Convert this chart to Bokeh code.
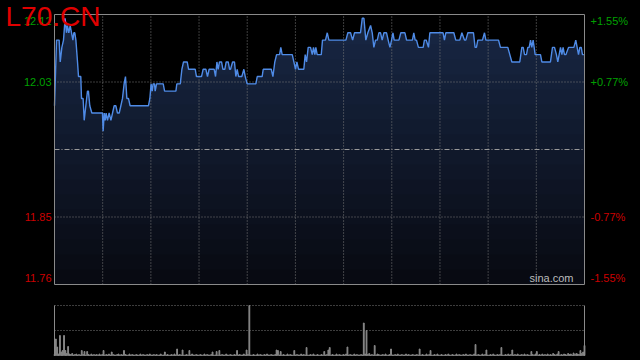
from bokeh.plotting import figure
from bokeh.layouts import column
from bokeh.models import Range1d, Label, GlobalInlineStyleSheet
from bokeh.embed import file_html
from bokeh.resources import INLINE

# ---------------- data ----------------
TITLE = "L70.CN"
WATERMARK = "sina.com"
PREV_CLOSE = 11.94
LIMIT_PCT = 1.55
SESSION_END = 389  # last minute index of the session
LABEL_STEPS = [1.0, 0.5, -0.5, -1.0]          # fraction of the +/- limit
PRICE_LABELS = ["12.12", "12.03", "11.85", "11.76"]
PCT_LABELS = ["+1.55%", "+0.77%", "-0.77%", "-1.55%"]

# intraday price line (minute of session, price)
TIMES = [
    0, 1.5, 3.4, 4.2, 5.4, 6.6, 7.8, 8.8, 9.5, 10.5, 11.5, 12.5, 13.5, 14.2, 14.9, 15.7,
    16.9, 17.6, 19.3, 19.8, 21.0, 21.8, 23.0, 24.2, 24.9, 25.9, 27.4, 35.2, 35.7, 36.5,
    37.2, 37.9, 38.9, 40.1, 41.4, 42.6, 43.8, 45.0, 46.2, 47.5, 48.7, 49.9, 51.1, 52.1,
    53.1, 54.3, 55.5, 69.0, 70.0, 70.9, 71.7, 72.4, 73.4, 73.9, 74.9, 75.9, 79.8, 80.8,
    89.1, 89.8, 92.3, 93.5, 94.7, 97.4, 98.4, 103.3, 104.2, 107.9, 109.1, 111.1, 112.3,
    113.5, 117.2, 118.2, 119.2, 120.1, 121.1, 122.6, 123.6, 125.0, 126.0, 127.5, 128.5,
    129.2, 130.7, 132.1, 133.1, 134.1, 135.1, 137.5, 139.0, 140.0, 141.4, 147.8, 148.8,
    152.4, 153.2, 159.1, 160.3, 161.7, 163.0, 165.2, 166.1, 167.1, 174.5, 175.7, 176.9,
    177.9, 179.1, 183.0, 184.0, 185.0, 186.2, 187.9, 189.2, 190.1, 191.1, 191.8, 192.8,
    195.8, 196.7, 198.9, 200.2, 201.4, 213.9, 215.3, 217.3, 218.8, 220.2, 224.6, 225.9,
    227.1, 228.5, 230.0, 232.0, 233.2, 234.4, 235.6, 236.9, 238.1, 239.3, 240.5, 241.8,
    243.7, 244.9, 246.2, 247.4, 248.4, 249.3, 252.8, 254.2, 257.2, 258.4,
    262.7, 263.7, 264.7, 265.7, 267.1, 270.6, 271.5, 272.8, 274.5, 275.5, 284.3, 285.2,
    286.2, 287.2, 293.1, 294.5, 297.5, 299.0, 300.9, 301.9, 303.4, 307.5, 308.7, 309.7,
    310.7, 314.1, 315.6, 316.6, 325.9, 327.3, 332.7, 335.7, 341.5, 343.0, 344.0, 345.0,
    346.4, 347.4, 348.4, 349.4, 350.3, 351.3, 352.8, 356.7, 357.7, 364.0, 365.5, 367.0,
    368.4, 369.4, 370.4, 371.4, 372.4, 373.3, 374.3, 375.3, 377.3, 381.2, 382.6, 383.6,
    384.6, 385.6, 386.6, 387.5, 388.5,
]
PRICES = [
    12.00, 12.09, 12.09, 12.06, 12.08, 12.09, 12.12, 12.10, 12.11, 12.10, 12.11, 12.10, 12.09, 12.10, 12.10, 12.09,
    12.06, 12.04, 12.04, 12.01, 12.01, 11.98, 12.00, 12.02, 12.02, 12.00, 11.99, 11.99, 11.965, 11.99,
    11.98, 11.99, 11.98, 11.99, 11.98, 11.99, 12.00, 12.00, 11.99, 11.99, 12.00, 12.01, 12.03, 12.04,
    12.01, 12.01, 12.00, 12.00, 12.01, 12.03, 12.02, 12.03, 12.03, 12.02, 12.03, 12.03, 12.03, 12.02,
    12.02, 12.03, 12.03, 12.05, 12.06, 12.06, 12.05, 12.05, 12.04, 12.04, 12.05, 12.05, 12.04,
    12.05, 12.05, 12.04, 12.06, 12.05, 12.06, 12.06, 12.05, 12.05, 12.06, 12.06, 12.05,
    12.05, 12.06, 12.06, 12.04, 12.05, 12.04, 12.04, 12.05, 12.04, 12.03, 12.03, 12.04,
    12.04, 12.05, 12.05, 12.04, 12.06, 12.07, 12.07, 12.08, 12.07, 12.07, 12.06, 12.05,
    12.06, 12.05, 12.05, 12.07, 12.06, 12.08, 12.08, 12.07, 12.08, 12.07, 12.08, 12.07,
    12.07, 12.09, 12.09, 12.10, 12.09, 12.09, 12.10, 12.10, 12.09, 12.10, 12.10, 12.12,
    12.12, 12.09, 12.10, 12.11, 12.10, 12.08, 12.09, 12.09, 12.10, 12.10, 12.09, 12.10,
    12.10, 12.09, 12.08, 12.09, 12.10, 12.09, 12.09, 12.10, 12.10, 12.09,
    12.09, 12.10, 12.09, 12.09, 12.08, 12.08, 12.09, 12.09, 12.08, 12.10, 12.10, 12.10,
    12.09, 12.10, 12.10, 12.09, 12.09, 12.10, 12.09, 12.09, 12.10, 12.10, 12.08, 12.08,
    12.09, 12.09, 12.10, 12.09, 12.09, 12.08, 12.08, 12.06, 12.06, 12.08, 12.08, 12.07,
    12.07, 12.08, 12.08, 12.09, 12.08, 12.09, 12.07, 12.07, 12.06, 12.06, 12.08, 12.08,
    12.07, 12.06, 12.07, 12.08, 12.07, 12.08, 12.07, 12.07, 12.08, 12.08, 12.09, 12.08,
    12.07, 12.08, 12.08, 12.07, 12.07,
]

# per-minute volume (relative units, 100 = top of the volume panel)
VOLUME = [
    2, 33, 17, 3, 40, 7, 10, 40, 10, 4, 18, 3, 2, 4, 1, 2, 3, 1, 2, 1, 10, 2, 8, 1, 8, 2, 1, 3, 1, 2,
    1, 2, 1, 3, 1, 2, 10, 1, 2, 1, 3, 1, 7, 2, 1, 1, 2, 3, 1, 2, 1, 10, 2, 1, 1, 3, 1, 2, 1, 1,
    2, 1, 1, 3, 1, 2, 1, 1, 2, 1, 3, 1, 1, 2, 1, 2, 1, 1, 3, 1, 1, 7, 1, 2, 1, 1, 2, 1, 3, 1,
    13, 1, 2, 1, 11, 1, 1, 2, 1, 10, 1, 3, 1, 1, 2, 1, 1, 2, 1, 1, 3, 1, 2, 1, 1, 2, 7, 1, 1, 8,
    1, 10, 1, 2, 1, 1, 3, 1, 1, 2, 1, 1, 2, 1, 10, 1, 2, 1, 1, 3, 1, 11, 2, 120, 1, 1, 2, 1, 1, 3,
    1, 2, 1, 1, 2, 1, 3, 1, 1, 2, 1, 1, 2, 11, 10, 1, 8, 1, 2, 1, 1, 3, 1, 2, 1, 1, 10, 1, 2, 1,
    1, 3, 1, 2, 1, 16, 1, 1, 2, 1, 3, 1, 1, 2, 1, 1, 2, 1, 8, 1, 2, 11, 16, 1, 2, 1, 1, 3, 1, 2,
    1, 1, 2, 1, 3, 17, 1, 2, 1, 1, 3, 1, 2, 1, 1, 2, 1, 65, 3, 50, 2, 4, 1, 2, 1, 20, 1, 3, 2, 1,
    1, 2, 1, 3, 1, 1, 2, 13, 1, 1, 2, 1, 3, 1, 1, 2, 1, 1, 3, 1, 2, 1, 1, 2, 1, 1, 2, 1, 13, 1,
    2, 1, 1, 3, 1, 2, 10, 1, 1, 2, 1, 3, 1, 1, 2, 1, 1, 2, 1, 3, 1, 1, 2, 1, 1, 3, 1, 2, 1, 1,
    2, 1, 3, 1, 1, 2, 1, 1, 3, 22, 1, 2, 1, 1, 3, 1, 2, 11, 1, 1, 2, 1, 3, 1, 1, 2, 1, 2, 16, 1,
    1, 2, 1, 3, 1, 2, 11, 1, 2, 1, 3, 1, 1, 2, 1, 3, 1, 2, 1, 1, 8, 2, 1, 3, 8, 1, 2, 1, 3, 1,
    2, 1, 3, 1, 2, 1, 4, 2, 1, 3, 8, 1, 2, 1, 3, 2, 1, 4, 2, 3, 1, 5, 2, 4, 3, 2, 10, 4, 7, 20,
]
VOL_MAX = 100

# ---------------- layout / styling ----------------
W = 640
BOX_L, BOX_R = 54, 584          # plot box, px
BOX_T, BOX_B = 14, 284
H1 = 290
VBOX_T, VBOX_B = 15, 65         # volume box inside its own 70px canvas
H2 = 70

FONT = "Liberation Sans"
GREEN = "#00a000"
RED = "#cc0000"
GRID = "#7a7a7a"
BORDER = "#8a8a8a"
LINE = "#4f8be6"
TOP_RGB = (25, 40, 70)
BOT_RGB = (8, 10, 17)

y_top = PREV_CLOSE * (1 + LIMIT_PCT / 100)
y_bot = PREV_CLOSE * (1 - LIMIT_PCT / 100)

# the frame fills the canvas; ranges are widened so the box sits where it should
xs = SESSION_END / (BOX_R - BOX_L)
x_lo = -BOX_L * xs
x_hi = SESSION_END + (W - BOX_R) * xs
ys = (y_top - y_bot) / (BOX_B - BOX_T)
y_hi = y_top + BOX_T * ys
y_lo = y_bot - (H1 - BOX_B) * ys

p = figure(width=W, height=H1, output_backend="svg", toolbar_location=None,
           x_range=Range1d(x_lo, x_hi), y_range=Range1d(y_lo, y_hi),
           min_border=0)
p.background_fill_color = "black"
p.border_fill_color = "black"
p.outline_line_color = None
p.axis.visible = False
p.grid.visible = False

# gradient area under the line: layered fills, each darker one capped lower
N = 18
for k in range(N):
    cap = y_top - k * (y_top - y_bot) / N
    t = (k + 0.5) / N
    r = int(TOP_RGB[0] + (BOT_RGB[0] - TOP_RGB[0]) * t)
    g = int(TOP_RGB[1] + (BOT_RGB[1] - TOP_RGB[1]) * t)
    b = int(TOP_RGB[2] + (BOT_RGB[2] - TOP_RGB[2]) * t)
    p.varea(x=TIMES, y1=[y_bot] * len(TIMES), y2=[min(v, cap) for v in PRICES],
            fill_color=(r, g, b))

levels = [PREV_CLOSE * (1 + f * LIMIT_PCT / 100) for f in LABEL_STEPS]
vx = [SESSION_END * i / 11 for i in range(1, 11)]
p.segment(x0=vx, y0=[y_bot] * len(vx), x1=vx, y1=[y_top] * len(vx),
          line_color=GRID, line_width=1, line_dash="1 2")
p.segment(x0=[0, 0], y0=[levels[1], levels[2]], x1=[SESSION_END] * 2,
          y1=[levels[1], levels[2]], line_color=GRID, line_width=1, line_dash="1 2")
p.segment(x0=[0], y0=[PREV_CLOSE], x1=[SESSION_END], y1=[PREV_CLOSE],
          line_color="#9a9a9a", line_width=1, line_dash="5 2 1 2")

p.line(TIMES, PRICES, line_color=LINE, line_width=1.4)

p.quad(left=[0], right=[SESSION_END], bottom=[y_bot], top=[y_top],
       fill_color=None, line_color=BORDER, line_width=1)

y_offs = [-6, 0, 0, 7]
colors = [GREEN, GREEN, RED, RED]
for lvl, txt, pct, off, c in zip(levels, PRICE_LABELS, PCT_LABELS, y_offs, colors):
    p.add_layout(Label(x=0, y=lvl, x_offset=-3, y_offset=off, text=txt, text_align="right",
                       text_baseline="alphabetic", text_color=c, text_font=FONT,
                       text_font_size="11px"))
    p.add_layout(Label(x=SESSION_END, y=lvl, x_offset=6, y_offset=off, text=pct,
                       text_align="left", text_baseline="alphabetic", text_color=c,
                       text_font=FONT, text_font_size="11px"))

p.add_layout(Label(x=SESSION_END, y=y_bot, x_offset=-11, y_offset=7, text=WATERMARK,
                   text_align="right", text_baseline="alphabetic", text_color="#bbbbbb",
                   text_font=FONT, text_font_size="11px"))

p.add_layout(Label(x=0, y=y_top, x_offset=-49, y_offset=-2, text=TITLE, text_align="left",
                   text_baseline="alphabetic", text_color="#e00000", text_font=FONT,
                   text_font_size="28px"))

# ---------------- volume panel ----------------
vs = VOL_MAX / (VBOX_B - VBOX_T)
pv = figure(width=W, height=H2, output_backend="svg", toolbar_location=None,
            x_range=Range1d(x_lo, x_hi),
            y_range=Range1d(-(H2 - VBOX_B) * vs, VOL_MAX + VBOX_T * vs),
            min_border=0)
pv.background_fill_color = "black"
pv.border_fill_color = "black"
pv.outline_line_color = None
pv.axis.visible = False
pv.grid.visible = False
pv.segment(x0=[0, 0], y0=[VOL_MAX / 2, VOL_MAX], x1=[SESSION_END] * 2,
           y1=[VOL_MAX / 2, VOL_MAX], line_color=GRID, line_width=1, line_dash="1 2")
pv.vbar(x=list(range(len(VOLUME))), top=[min(v, VOL_MAX) for v in VOLUME], bottom=0,
        width=0.6, color="#888888")
pv.segment(x0=[0, SESSION_END], y0=[0, 0], x1=[0, SESSION_END], y1=[VOL_MAX, VOL_MAX],
           line_color=BORDER, line_width=1)

layout = column(p, pv, spacing=0,
                stylesheets=[GlobalInlineStyleSheet(css="html, body { background-color: #000; }")])

open("out.html", "w").write(file_html(layout, INLINE))
